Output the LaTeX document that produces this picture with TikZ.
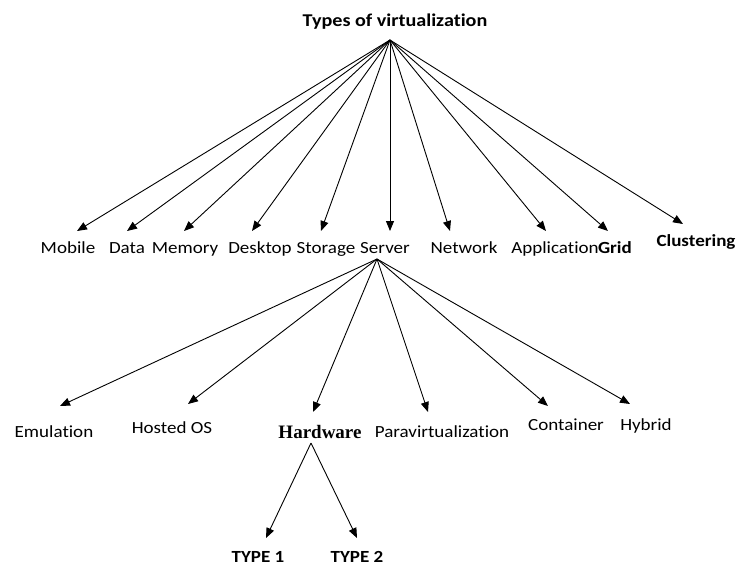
\documentclass[tikz,border=0pt]{standalone}
\usepackage{fontspec}
\setmainfont{Carlito}[FakeStretch=1.12, Ligatures=NoCommon]
\newfontfamily\serifbold{Liberation Serif}
\usetikzlibrary{arrows.meta}
\begin{document}
\begin{tikzpicture}[x=1pt,y=-1pt,
  lbl/.style={inner sep=0pt, anchor=base, font=\fontsize{17}{19}\selectfont},
  blbl/.style={lbl, font=\fontsize{17}{19}\selectfont\bfseries},
  arr/.style={-{Triangle[length=10pt,width=8pt]}, line width=0.9pt},
]
\useasboundingbox (0,0) rectangle (748,566);

% root
\node[blbl, font=\fontsize{18}{20}\selectfont\bfseries] (root) at (395,26) {Types of virtualization};
\coordinate (hub) at (390,40);

% first level labels
\node[lbl] (mobile) at (68,253) {Mobile};
\node[lbl] (data) at (127,253) {Data};
\node[lbl] (memory) at (185,253) {Memory};
\node[lbl] (desktop) at (260,253) {Desktop};
\node[lbl] (storage) at (326,253) {Storage};
\node[lbl] (server) at (385,253) {Server};
\node[lbl] (network) at (464,253) {Network};
\node[lbl] (application) at (555,253) {Application};
\node[blbl] (grid) at (615,253) {Grid};
\node[blbl] (clustering) at (696,246) {Clustering};

% arrow tips
\coordinate (tmobile) at (77,231);
\coordinate (tdata) at (127,231);
\coordinate (tmemory) at (184,231);
\coordinate (tdesktop) at (252,231);
\coordinate (tstorage) at (321,231);
\coordinate (tserver) at (390,231);
\coordinate (tnetwork) at (450,231);
\coordinate (tapplication) at (546,231);
\coordinate (tgrid) at (608,231);
\coordinate (tclustering) at (683,224);

\foreach \n in {mobile,data,memory,desktop,storage,server,network,application,grid,clustering}
  \draw[arr] (hub) -- (t\n);

% second level
\coordinate (shub) at (377,259);
\node[lbl] (emulation) at (54,437) {Emulation};
\node[lbl] (hosted) at (172,433) {Hosted OS};
\node[lbl, font=\fontsize{19}{21}\selectfont\serifbold\bfseries] (hardware) at (320,438) {Hardware};
\node[lbl] (para) at (442,437) {Paravirtualization};
\node[lbl] (container) at (566,430) {Container};
\node[lbl] (hybrid) at (646,430) {Hybrid};

\coordinate (temulation) at (60,406);
\coordinate (thosted) at (188,404);
\coordinate (thardware) at (313,412);
\coordinate (tpara) at (428,412);
\coordinate (tcontainer) at (548,406);
\coordinate (thybrid) at (630,404);

\foreach \n in {emulation,hosted,hardware,para,container,hybrid}
  \draw[arr] (shub) -- (t\n);

% third level
\coordinate (hhub) at (311,443);
\node[blbl] (type1) at (258,562) {TYPE 1};
\node[blbl] (type2) at (357,562) {TYPE 2};
\coordinate (ttype1) at (266,538);
\coordinate (ttype2) at (357,538);
\draw[arr] (hhub) -- (ttype1);
\draw[arr] (hhub) -- (ttype2);
\end{tikzpicture}
\end{document}
